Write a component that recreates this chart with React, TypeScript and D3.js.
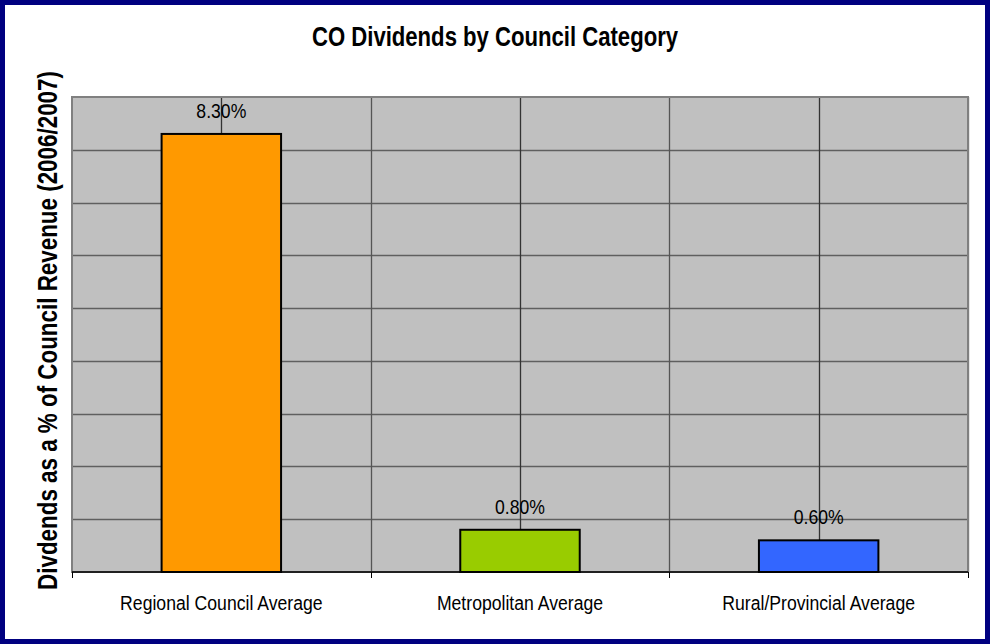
import React from "react";
import * as d3 from "d3";

const categories = ["Regional Council Average", "Metropolitan Average", "Rural/Provincial Average"];
const values = [8.3, 0.8, 0.6];
const barColors = ["#FF9900", "#99CC00", "#3366FF"];
const yTicks = [0, 1, 2, 3, 4, 5, 6, 7, 8, 9];

const W = 990;
const H = 644;
const plot = { left: 72, right: 968, top: 97, bottom: 572 };
const FONT = "'Liberation Sans', Arial, sans-serif";
// horizontal squeeze that gives the regular sans a narrow-face look
const NARROW = 0.84;

export default function App() {
  const x = d3
    .scaleBand<string>()
    .domain(categories)
    .range([plot.left, plot.right])
    .paddingInner(0)
    .paddingOuter(0);
  const y = d3.scaleLinear().domain([0, 9]).range([plot.bottom, plot.top]);
  const bw = x.bandwidth();
  const barW = bw * 0.4;

  // vertical lines at category centres and category boundaries
  const vLines: number[] = [];
  categories.forEach((c) => {
    vLines.push(x(c)! + bw / 2);
    vLines.push(x(c)! + bw);
  });

  return (
    <svg
      width={W}
      height={H}
      style={{ position: "absolute", left: 0, top: 0, display: "block" }}
      fontFamily={FONT}
    >
      <rect x={0} y={0} width={W} height={H} fill="#ffffff" />
      {/* frame */}
      <rect x={2.5} y={2.5} width={W - 5} height={H - 5} fill="none" stroke="#000080" strokeWidth={5} />
      <rect x={985} y={0} width={5} height={H} fill="#000080" />
      <rect x={0} y={639} width={W} height={5} fill="#000080" />

      {/* plot area */}
      <rect
        x={plot.left}
        y={plot.top}
        width={plot.right - plot.left}
        height={plot.bottom - plot.top}
        fill="#C0C0C0"
      />
      {yTicks.slice(1, -1).map((t) => (
        <line
          key={"h" + t}
          x1={plot.left}
          x2={plot.right}
          y1={Math.round(y(t)) + 0.5}
          y2={Math.round(y(t)) + 0.5}
          stroke="#5f5f5f"
          strokeWidth={1.6}
        />
      ))}
      {vLines.map((v, i) => (
        <line
          key={"v" + i}
          x1={Math.round(v) + 0.5}
          x2={Math.round(v) + 0.5}
          y1={plot.top}
          y2={plot.bottom}
          stroke={i % 2 === 0 ? "#333333" : "#555555"}
          strokeWidth={1.3}
        />
      ))}
      <rect
        x={plot.left}
        y={plot.top}
        width={plot.right - plot.left}
        height={plot.bottom - plot.top}
        fill="none"
        stroke="#808080"
        strokeWidth={2}
      />

      {/* bars with value labels and category labels */}
      {categories.map((c, i) => {
        const cx = x(c)! + bw / 2;
        return (
          <g key={c}>
            <rect
              x={cx - barW / 2}
              y={y(values[i])}
              width={barW}
              height={plot.bottom - y(values[i])}
              fill={barColors[i]}
              stroke="#000000"
              strokeWidth={2}
            />
            <text
              transform={`translate(${cx}, ${y(values[i]) - 16}) scale(${NARROW}, 1)`}
              textAnchor="middle"
              fontSize={21}
              fill="#000000"
            >
              {values[i].toFixed(2) + "%"}
            </text>
            <text
              transform={`translate(${cx}, 610) scale(${NARROW}, 1)`}
              textAnchor="middle"
              fontSize={21}
              fill="#000000"
            >
              {c}
            </text>
          </g>
        );
      })}

      {/* x axis */}
      <line x1={plot.left} x2={plot.right} y1={plot.bottom} y2={plot.bottom} stroke="#000000" strokeWidth={1.5} />
      {[plot.left, ...categories.map((c) => x(c)! + bw)].map((t, i) => (
        <line
          key={"t" + i}
          x1={Math.round(t) + 0.5}
          x2={Math.round(t) + 0.5}
          y1={plot.bottom}
          y2={plot.bottom + 6}
          stroke="#000000"
          strokeWidth={1}
        />
      ))}

      {/* title */}
      <text
        transform={`translate(495, 46) scale(0.79, 1)`}
        textAnchor="middle"
        fontSize={28}
        fontWeight="bold"
        fill="#000000"
      >
        CO Dividends by Council Category
      </text>

      {/* y axis title */}
      <text
        transform={`translate(57, ${(plot.top + plot.bottom) / 2 - 4}) rotate(-90) scale(0.8, 1)`}
        textAnchor="middle"
        fontSize={28}
        fontWeight="bold"
        fill="#000000"
      >
        Divdends as a % of Council Revenue (2006/2007)
      </text>
    </svg>
  );
}
